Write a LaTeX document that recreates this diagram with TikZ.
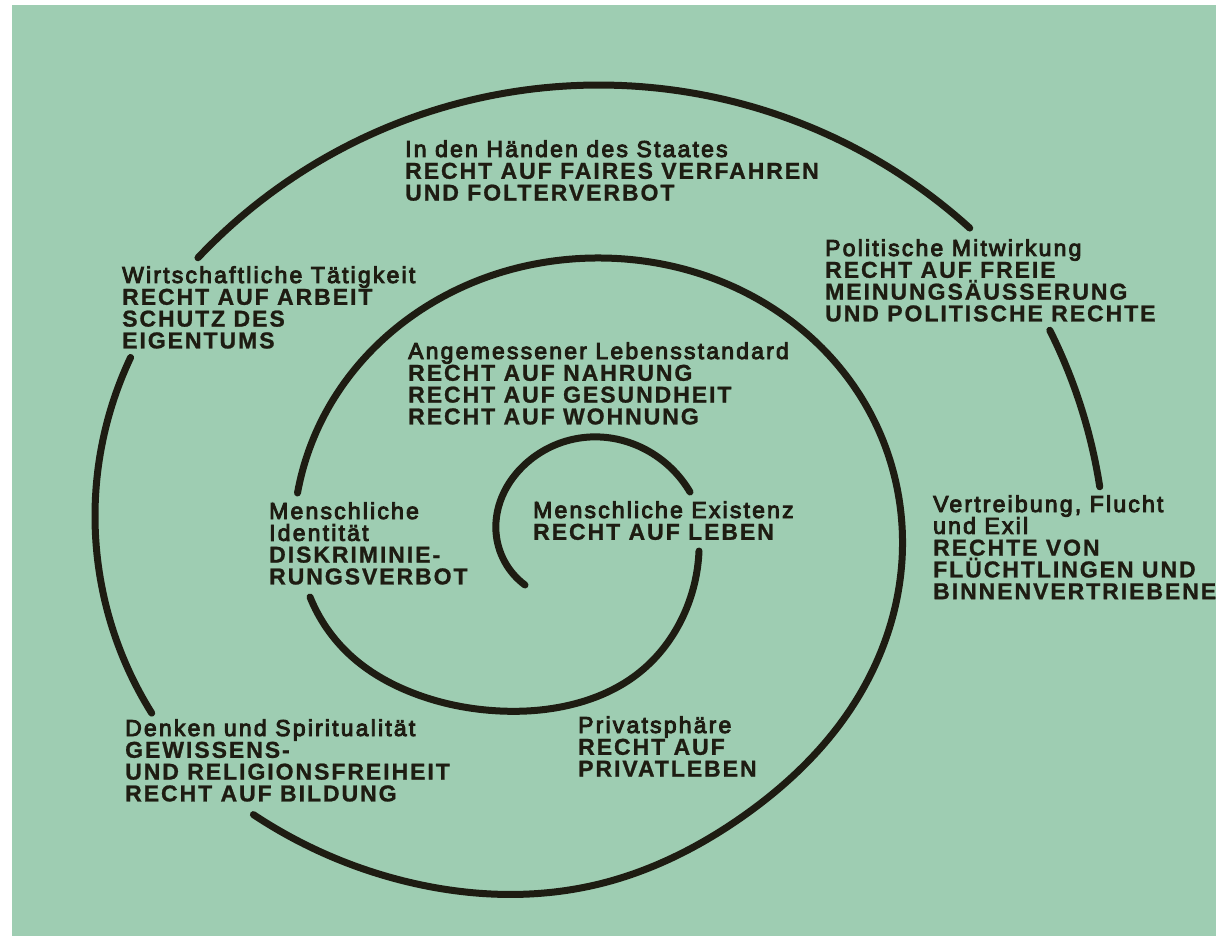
\documentclass[tikz,border=0pt]{standalone}
\usepackage{fontspec}
\usetikzlibrary{hobby}
\setmainfont{Liberation Sans}
\font\lowfnt="Liberation Sans:embolden=4;letterspace=9.5" at 23pt
\font\capfnt="Liberation Sans/B:embolden=1;letterspace=8.5" at 23pt
\definecolor{bg}{RGB}{158,205,178}
\definecolor{ink}{RGB}{30,28,18}
\newcommand\labtext[1]{\vtop{\baselineskip=21.8pt\lineskiplimit=-100pt\lineskip=0pt #1}}
\newcommand\lowline[1]{\hbox{\lowfnt #1}}
\newcommand\capline[1]{\hbox{\capfnt #1}}
\tikzset{
  spiral/.style={draw=ink, line width=7pt, line cap=round, line join=round},
  lbl/.style={anchor=base west, inner sep=0pt, text=ink, font=\fontsize{23}{21.8}\selectfont}
}
\begin{document}
\begin{tikzpicture}[x=1pt,y=-1pt]
\useasboundingbox (0,0) rectangle (1216,936);
\fill[white] (0,0) rectangle (1216,936);
\fill[bg] (12,5) rectangle (1216,936);

% spiral segments, from the centre outwards
\coordinate (s1a) at (525,585);
\coordinate (s1b) at (690,492);
\draw[spiral] (s1a) to[curve through={(496,532) .. (530,460) .. (590,437) .. (650,452)}] (s1b);

\coordinate (s2a) at (699,551);
\coordinate (s2b) at (310,597);
\draw[spiral] (s2a) to[curve through={(685,612) .. (640,672) .. (570,705) .. (500,711) .. (413,693) .. (350,655)}] (s2b);

\coordinate (s3a) at (297.5,493);
\coordinate (s3b) at (253.4,814.6);
\draw[spiral] (s3a) to[curve through={(329.1,406.5) .. (443,296.7) .. (595,258) .. (748.5,294.1) .. (865.2,404) .. (902,560) .. (851.3,708) .. (743,816.3) .. (595,885) .. (409,882.2)}] (s3b);

\draw[spiral] plot[domain=147.9:205.3, samples=60] ({466+371*cos(\x)},{516+371*sin(\x)});
\draw[spiral] plot[domain=223.4:312.2, samples=90] ({599+552*cos(\x)},{637+552*sin(\x)});
\draw[spiral] plot[domain=-26.6:-8.8, samples=30] ({575+531*cos(\x)},{568+531*sin(\x)});

% labels
\node[lbl] (staat) at (405,157) {\labtext{\lowline{In den Händen des Staates}\capline{RECHT AUF FAIRES VERFAHREN}\capline{UND FOLTERVERBOT}}};
\node[lbl] (wirtschaft) at (122,283) {\labtext{\lowline{Wirtschaftliche Tätigkeit}\capline{RECHT AUF ARBEIT}\capline{SCHUTZ DES}\capline{EIGENTUMS}}};
\node[lbl] (politik) at (825,256) {\labtext{\lowline{Politische Mitwirkung}\capline{RECHT AUF FREIE}\capline{MEINUNGSÄUSSERUNG}\capline{UND POLITISCHE RECHTE}}};
\node[lbl] (leben) at (408,359) {\labtext{\lowline{Angemessener Lebensstandard}\capline{RECHT AUF NAHRUNG}\capline{RECHT AUF GESUNDHEIT}\capline{RECHT AUF WOHNUNG}}};
\node[lbl] (existenz) at (533,518) {\labtext{\lowline{Menschliche Existenz}\capline{RECHT AUF LEBEN}}};
\node[lbl] (identitaet) at (269,519) {\labtext{\lowline{Menschliche}\lowline{Identität}\capline{DISKRIMINIE-}\capline{RUNGSVERBOT}}};
\node[lbl] (vertreibung) at (933,512) {\labtext{\lowline{Vertreibung, Flucht}\lowline{und Exil}\capline{RECHTE VON}\capline{FLÜCHTLINGEN UND}\capline{BINNENVERTRIEBENEN}}};
\node[lbl] (denken) at (125,736) {\labtext{\lowline{Denken und Spiritualität}\capline{GEWISSENS-}\capline{UND RELIGIONSFREIHEIT}\capline{RECHT AUF BILDUNG}}};
\node[lbl] (privat) at (578,733) {\labtext{\lowline{Privatsphäre}\capline{RECHT AUF}\capline{PRIVATLEBEN}}};
\end{tikzpicture}
\end{document}
